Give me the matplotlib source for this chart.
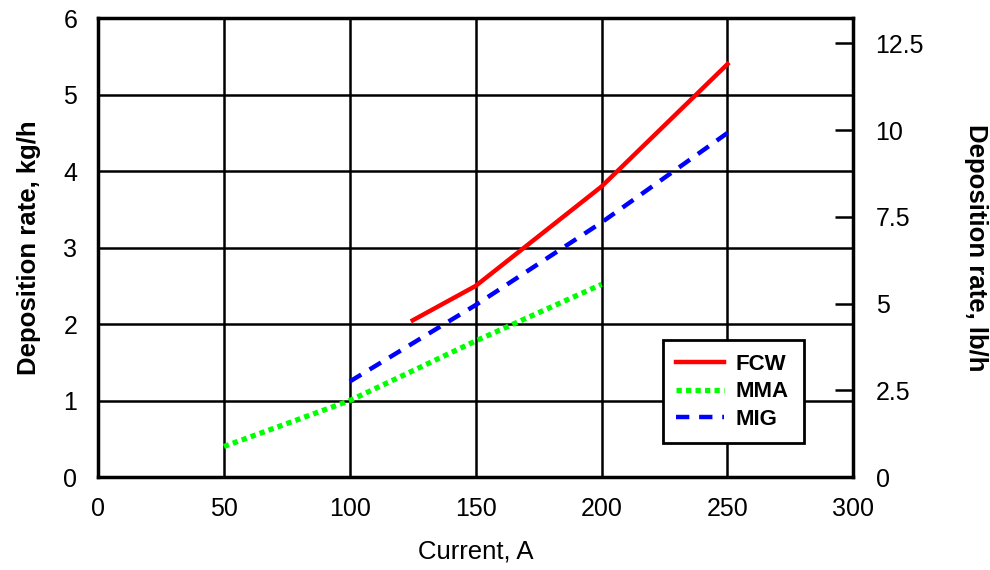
import numpy as np
import matplotlib.pyplot as plt

plt.rcParams['font.family'] = ['Liberation Sans', 'DejaVu Sans']

KG_TO_LB = 2.2046

# Deposition rate (kg/h) vs welding current (A)
fcw_current = [125, 150, 200, 250]
fcw_rate = [2.05, 2.5, 3.8, 5.4]

mma_current = [50, 100, 150, 200]
mma_rate = [0.4, 1.0, 1.78, 2.52]

mig_current = [100, 150, 200, 250]
mig_rate = [1.25, 2.25, 3.33, 4.5]

fig = plt.figure(figsize=(9.9, 5.7), dpi=100)
ax = fig.add_axes([0.099, 0.163, 0.763, 0.805])

ax.plot(fcw_current, fcw_rate, color='#ff0000', lw=3.2, label='FCW', zorder=3)
ax.plot(mma_current, mma_rate, color='#00ff00', lw=3.8, ls=(0, (1, 0.8)), label='MMA', zorder=3)
ax.plot(mig_current, mig_rate, color='#0000ff', lw=3.2, ls=(0, (3, 2.2)), label='MIG', zorder=3)

ax.set_xlim(0, 300)
ax.set_ylim(0, 6)
ax.set_xticks(np.arange(0, 301, 50))
ax.set_yticks(np.arange(0, 7, 1))
ax.grid(True, color='black', lw=1.8)
ax.set_axisbelow(True)
for s in ax.spines.values():
    s.set_linewidth(2.5)
ax.tick_params(axis='x', length=0, labelsize=18, pad=14)
ax.tick_params(axis='y', length=0, labelsize=18, pad=15)
ax.set_xlabel('Current, A', fontsize=18.5, labelpad=14)
ax.set_ylabel('Deposition rate, kg/h', fontsize=18.5, fontweight='bold', labelpad=16)

# secondary axis in lb/h
ax2 = ax.twinx()
ax2.set_ylim(0, 6 * KG_TO_LB)
ax2.set_yticks([0, 2.5, 5, 7.5, 10, 12.5])
ax2.set_yticklabels(['0', '2.5', '5', '7.5', '10', '12.5'])
ax2.tick_params(axis='y', direction='in', length=13, width=1.8, labelsize=18, pad=16)
for s in ax2.spines.values():
    s.set_visible(False)
ax2.set_ylabel('Deposition rate, lb/h', fontsize=18.5, fontweight='bold',
               rotation=270, labelpad=46)

leg = ax.legend(loc='upper left', bbox_to_anchor=(0.748, 0.298, 0.186, 0.0),
                mode='expand', fancybox=False, framealpha=1, edgecolor='black',
                prop={'weight': 'bold', 'size': 16}, handlelength=2.15,
                handletextpad=0.5, borderpad=0.6, labelspacing=0.3,
                borderaxespad=0)
leg.get_frame().set_linewidth(2)
leg.set_zorder(5)

fig.savefig('out.png', dpi=100)
